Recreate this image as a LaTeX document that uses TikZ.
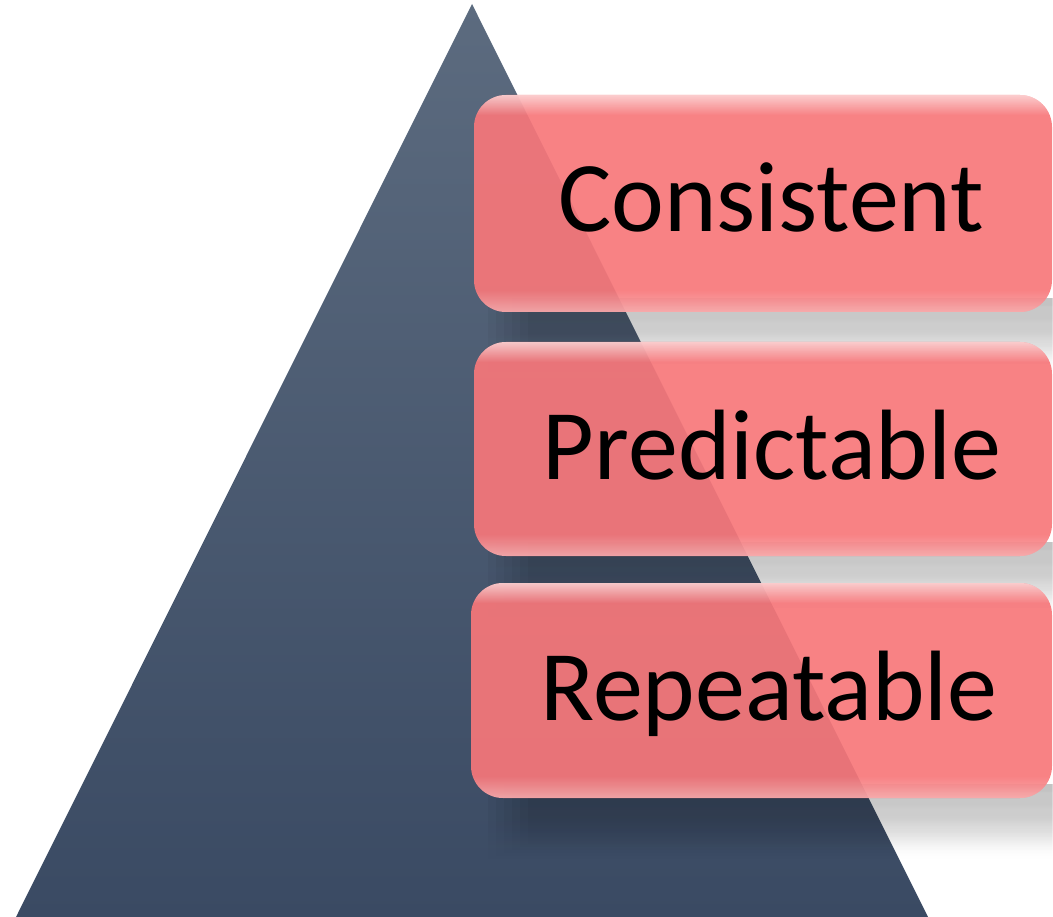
\documentclass[tikz,border=0pt]{standalone}
\usepackage{fontspec}
\setmainfont{Carlito}
\usetikzlibrary{fadings}
\definecolor{trtop}{HTML}{5C6B7F}
\definecolor{trbot}{HTML}{3A4A63}
\definecolor{boxpink}{RGB}{247,119,122}
\tikzfading[name=shadowfade, top color=transparent!0, bottom color=transparent!100, middle color=transparent!20]
\tikzfading[name=glowdown, top color=transparent!0, bottom color=transparent!100]
\tikzfading[name=glowup, top color=transparent!100, bottom color=transparent!0]
\tikzset{
  pinkbox/.style={fill=boxpink, fill opacity=0.92, draw=none, rounded corners=32pt},
  boxshadow/.style={fill=black, fill opacity=0.045, path fading=shadowfade},
  glowtop/.style={fill=white, fill opacity=0.6, path fading=glowdown},
  glowbot/.style={fill=white, fill opacity=0.35, path fading=glowup},
  label/.style={font=\fontsize{100}{110}\selectfont, text=black, anchor=base, inner sep=0pt}
}
\begin{document}
\begin{tikzpicture}[x=1pt,y=1pt]
\useasboundingbox (0,-917) rectangle (1053,0);
% pyramid
\shade[top color=trtop, bottom color=trbot] (472,-4) -- (928,-917) -- (16,-917) -- cycle;
% soft shadows (stacked layers)
\foreach \b in {312,556,798}{
  \foreach \k in {0,...,5}{
    \fill[boxshadow] ({488+8*\k},-\b+14) rectangle (1053,{-\b-62+3*\k});
  }
}
% boxes
\foreach \t/\b/\l in {95/312/474, 342/556/474, 583/798/471}{
  \path[pinkbox] (\l,-\t) rectangle (1052,-\b);
  \begin{scope}
    \clip[rounded corners=32pt] (\l,-\t) rectangle (1052,-\b);
    \fill[glowtop] (\l,-\t) rectangle (1052,-\t-20);
    \fill[glowbot] (\l,-\b+22) rectangle (1052,-\b);
  \end{scope}
}
% labels
\node[label] (consistent) at (771,-232) {Consistent};
\node[label] (predictable) at (772,-479) {Predictable};
\node[label] (repeatable) at (769,-720) {Repeatable};
\end{tikzpicture}
\end{document}
